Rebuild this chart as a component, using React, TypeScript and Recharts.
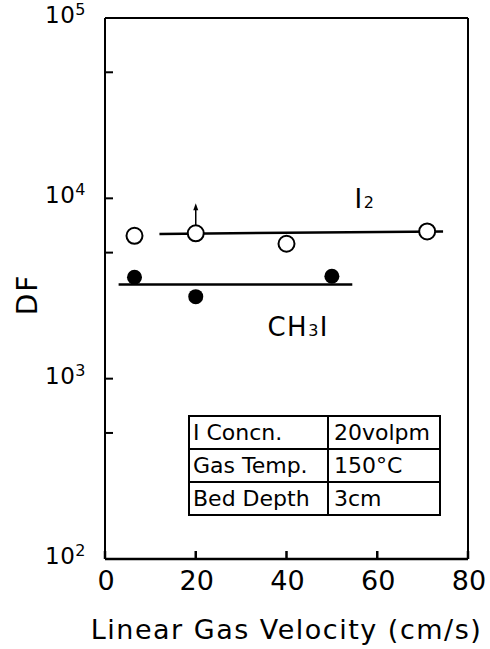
import React from 'react';
import {ScatterChart, Scatter, XAxis, YAxis, ReferenceDot} from 'recharts';

// axis ticks
const xTicks = [0, 20, 40, 60, 80];
const topTicks = [20, 40, 60];
const yTicks = [100, 500, 1000, 5000, 10000, 50000, 100000];
const rightTicks = [1000, 10000];

// measured points (open = I2, filled = CH3I)
const i2Velocity = [6.5, 20, 40, 71];
const i2DF = [6200, 6400, 5600, 6550];
const i2LowerBound = [false, true, false, false];
const ch3iVelocity = [6.5, 20, 50];
const ch3iDF = [3650, 2850, 3700];

// drawn mean lines
const i2FitVelocity = [12, 74.5];
const i2FitDF = [6350, 6550];
const ch3iFitVelocity = [3, 54.5];
const ch3iFitDF = [3330, 3330];

// test conditions box
const conditionNames = ['I Concn.', 'Gas Temp.', 'Bed Depth'];
const conditionValues = ['20volpm', '150°C', '3cm'];

const FONT = '"DejaVu Sans", sans-serif';

const i2Data = i2Velocity.map((x, i) => ({x, y: i2DF[i], lowerBound: i2LowerBound[i]}));
const ch3iData = ch3iVelocity.map((x, i) => ({x, y: ch3iDF[i]}));
const i2Fit = i2FitVelocity.map((x, i) => ({x, y: i2FitDF[i]}));
const ch3iFit = ch3iFitVelocity.map((x, i) => ({x, y: ch3iFitDF[i]}));

const OpenDot = (p: any) => {
    const {cx, cy, payload} = p;
    return <g>
        {payload.lowerBound && <g>
            <line x1={cx} y1={cy - 8} x2={cx} y2={cy - 26} stroke="#000" strokeWidth={1.5}/>
            <path d={`M${cx - 2.5},${cy - 23} L${cx},${cy - 30} L${cx + 2.5},${cy - 23} Z`} fill="#000"/>
        </g>}
        <circle cx={cx} cy={cy} r={8} fill="#fff" stroke="#000" strokeWidth={2}/>
    </g>;
};

const FilledDot = (p: any) => <circle cx={p.cx} cy={p.cy} r={7.5} fill="#000"/>;

const NoDot = () => <g/>;

const LeftTick = (p: any) => {
    const v = p.payload.value;
    const exp = Math.round(Math.log10(v));
    if (Math.abs(Math.pow(10, exp) - v) > 1e-6) return <g/>;
    return <text x={p.x} y={p.y + 5} textAnchor="end" fontFamily={FONT} fontSize={23} letterSpacing={0.5} fill="#000">
        10<tspan fontSize={16} dy={-8}>{exp}</tspan>
    </text>;
};

const BottomTick = (p: any) =>
    <text x={p.x + 1} y={p.y} textAnchor="middle" fontFamily={FONT} fontSize={27}
          fill="#000">{p.payload.value}</text>;

const Chem = (p: any) =>
    <text x={p.cx} y={p.cy} fontFamily={FONT} fontSize={26} letterSpacing={1.5} fill="#000">
        {p.main}<tspan fontSize={16}>{p.sub}</tspan>{p.tail}
    </text>;

export default function App() {
    return <div style={{position: 'absolute', left: 0, top: 0, width: 490, height: 649}}>
        <ScatterChart width={490} height={649} margin={{top: 17, right: 21, bottom: 0, left: 0}}>
            <XAxis xAxisId="bottom" dataKey="x" type="number" domain={[0, 80]} ticks={xTicks}
                   height={90} tickSize={-8} tickMargin={39} stroke="#000" strokeWidth={2.5}
                   tick={<BottomTick/>}
                   label={(lp: any) => {
                       const vb = lp.viewBox;
                       return <text x={vb.x + vb.width / 2} y={vb.y + 80} textAnchor="middle"
                                    fontFamily={FONT} fontSize={27} letterSpacing={1.5}
                                    fill="#000">Linear Gas Velocity (cm/s)</text>;
                   }}/>
            <XAxis xAxisId="top" orientation="top" dataKey="x" type="number" domain={[0, 80]} ticks={topTicks}
                   height={1} tickSize={-8} tick={false} stroke="#000" strokeWidth={2}/>
            <YAxis yAxisId="left" dataKey="y" type="number" scale="log" domain={[100, 100000]} allowDataOverflow
                   ticks={yTicks} width={105} tickSize={-8} tickMargin={27} stroke="#000" strokeWidth={2}
                   tick={<LeftTick/>}
                   label={(lp: any) => {
                       const vb = lp.viewBox;
                       const cx = 27, cy = vb.y + vb.height / 2 + 6;
                       return <text x={cx} y={cy} textAnchor="middle" dominantBaseline="central"
                                    transform={`rotate(-90 ${cx} ${cy})`} letterSpacing={2}
                                    fontFamily={FONT} fontSize={28} fill="#000">DF</text>;
                   }}/>
            <YAxis yAxisId="right" orientation="right" dataKey="y" type="number" scale="log" domain={[100, 100000]}
                   allowDataOverflow ticks={rightTicks} width={1} tickSize={-8} tick={false}
                   stroke="#000" strokeWidth={2}/>

            <Scatter xAxisId="bottom" yAxisId="left" data={i2Fit} line={{stroke: '#000', strokeWidth: 2.5}}
                     shape={<NoDot/>} isAnimationActive={false}/>
            <Scatter xAxisId="bottom" yAxisId="left" data={ch3iFit} line={{stroke: '#000', strokeWidth: 2.5}}
                     shape={<NoDot/>} isAnimationActive={false}/>
            <Scatter xAxisId="bottom" yAxisId="left" data={i2Data} shape={<OpenDot/>} isAnimationActive={false}/>
            <Scatter xAxisId="bottom" yAxisId="left" data={ch3iData} shape={<FilledDot/>} isAnimationActive={false}/>

            <ReferenceDot xAxisId="bottom" yAxisId="left" x={55} y={8800} r={0}
                          shape={(p: any) => <Chem {...p} main="I" sub="2" tail=""/>}/>
            <ReferenceDot xAxisId="bottom" yAxisId="left" x={35.8} y={1734} r={0}
                          shape={(p: any) => <Chem {...p} main="CH" sub="3" tail="I"/>}/>
        </ScatterChart>
        <table style={{
            position: 'absolute', left: 188, top: 415, width: 253, borderCollapse: 'collapse',
            fontFamily: FONT, fontSize: 22, color: '#000'
        }}>
            <tbody>
            {conditionNames.map((name, i) =>
                <tr key={name} style={{height: 33}}>
                    <td style={{border: '2px solid #000', width: 134, padding: '0 0 0 3px', whiteSpace: 'nowrap'}}>{name}</td>
                    <td style={{border: '2px solid #000', padding: '0 0 0 5px', whiteSpace: 'nowrap'}}>{conditionValues[i]}</td>
                </tr>)}
            </tbody>
        </table>
    </div>;
}
